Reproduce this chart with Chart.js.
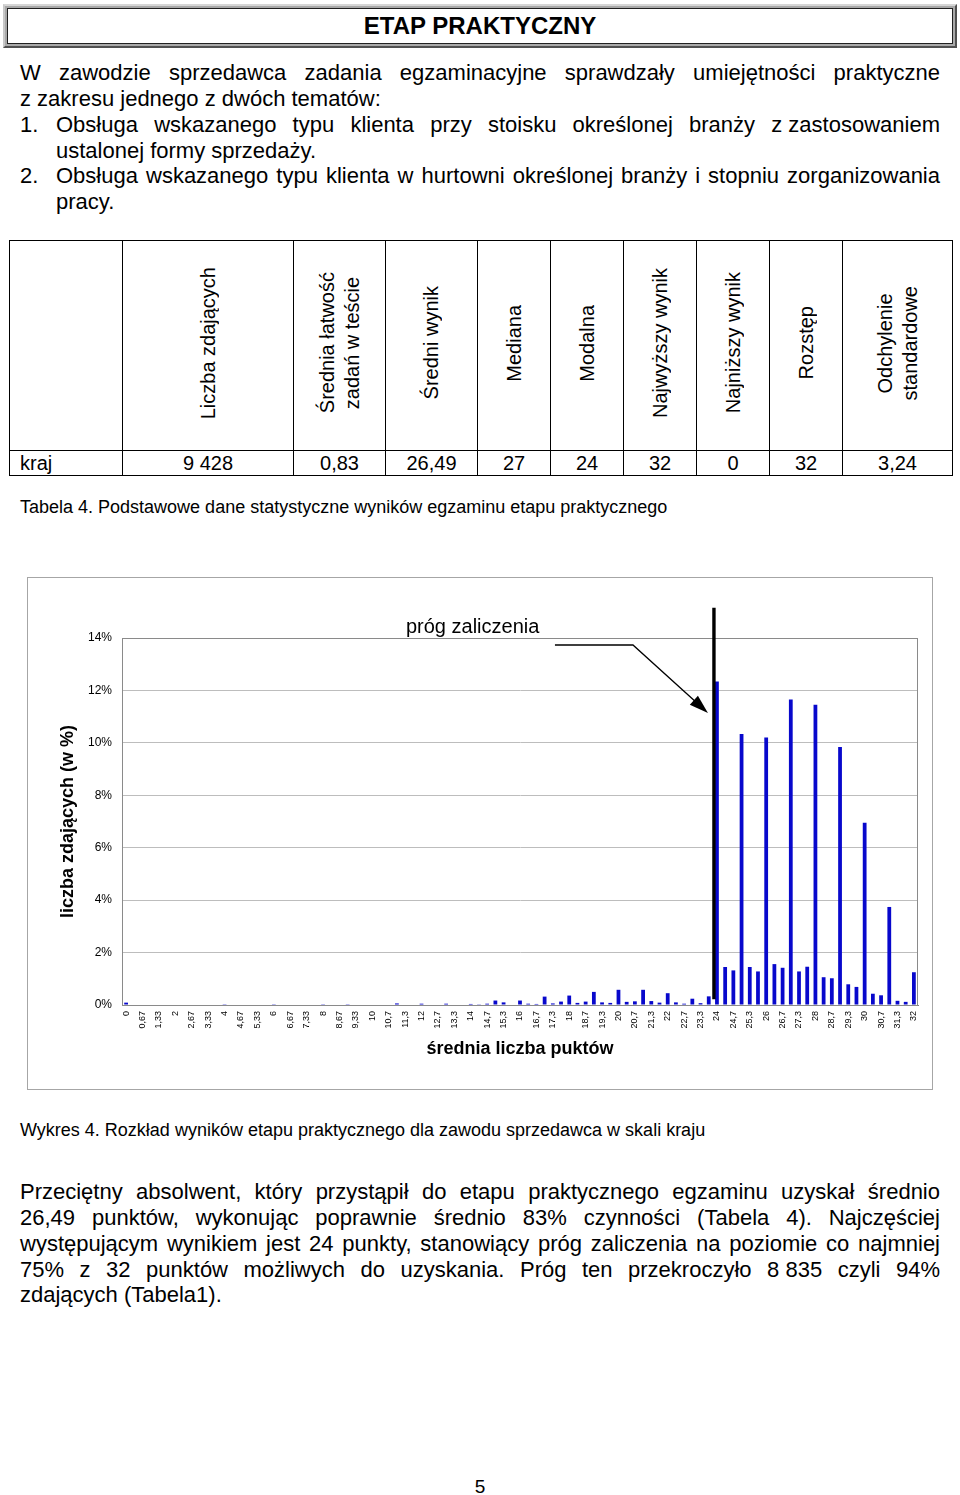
<!DOCTYPE html>
<html><head><meta charset="utf-8">
<script src="https://cdn.jsdelivr.net/npm/chart.js@4"></script>
<style>
body{margin:0;background:#fff;font-family:"Liberation Sans",Arial,sans-serif;color:#000;}
#page{position:relative;width:960px;height:1495px;overflow:hidden;background:#fff;}
.abs{position:absolute;}
#titlebox{left:3px;top:4px;width:954px;height:44px;box-sizing:border-box;background:#a9a9a9;border-top:2px solid #d6d6d6;border-left:2px solid #c8c8c8;border-bottom:2px solid #505050;border-right:2px solid #505050;padding:2px;}
#titlein{width:100%;height:100%;box-sizing:border-box;background:#fff;border:1px solid #202020;font-weight:bold;font-size:24px;text-align:center;line-height:34px;}
.ln{position:absolute;font-size:22px;line-height:26px;height:26px;text-align:justify;text-align-last:justify;}
.ll{position:absolute;font-size:22px;line-height:26px;height:26px;text-align:left;white-space:nowrap;}
.nb{display:inline-block;white-space:nowrap;}
.cap{position:absolute;left:20px;font-size:18px;line-height:22px;white-space:nowrap;}
#tbl{position:absolute;left:9px;top:240px;border-collapse:collapse;table-layout:fixed;width:943px;font-size:20px;}
#tbl td{border:1px solid #000;padding:0;text-align:center;vertical-align:middle;}
#tbl tr.h td{height:209px;}
#tbl tr.d td{height:24px;line-height:24px;}
.v{display:inline-block;writing-mode:vertical-rl;transform:rotate(180deg);text-align:center;line-height:25px;white-space:nowrap;}
#chartbox{position:absolute;left:27px;top:577px;width:906px;height:513px;box-sizing:border-box;border:1px solid #a6a6a6;}
</style></head>
<body><div id="page">
<div id="titlebox" class="abs"><div id="titlein">ETAP PRAKTYCZNY</div></div>

<div class="ln" style="left:20px;width:920px;top:60px;">W zawodzie sprzedawca zadania egzaminacyjne sprawdzały umiejętności praktyczne</div>
<div class="ll" style="left:20px;top:86px;">z zakresu jednego z dwóch tematów:</div>
<div class="ll" style="left:20px;top:112px;">1.</div>
<div class="ln" style="left:56px;width:884px;top:112px;">Obsługa wskazanego typu klienta przy stoisku określonej branży <span class="nb">z zastosowaniem</span></div>
<div class="ll" style="left:56px;top:138px;">ustalonej formy sprzedaży.</div>
<div class="ll" style="left:20px;top:163px;">2.</div>
<div class="ln" style="left:56px;width:884px;top:163px;">Obsługa wskazanego typu klienta w hurtowni określonej branży i stopniu zorganizowania</div>
<div class="ll" style="left:56px;top:189px;">pracy.</div>

<table id="tbl">
<colgroup><col style="width:113px"><col style="width:171px"><col style="width:92px"><col style="width:92px"><col style="width:73px"><col style="width:73px"><col style="width:73px"><col style="width:73px"><col style="width:73px"><col style="width:110px"></colgroup>
<tr class="h"><td></td>
<td><span class="v">Liczba zdających</span></td>
<td><span class="v">Średnia łatwość<br>zadań w teście</span></td>
<td><span class="v">Średni wynik</span></td>
<td><span class="v">Mediana</span></td>
<td><span class="v">Modalna</span></td>
<td><span class="v">Najwyższy wynik</span></td>
<td><span class="v">Najniższy wynik</span></td>
<td><span class="v">Rozstęp</span></td>
<td><span class="v">Odchylenie<br>standardowe</span></td></tr>
<tr class="d"><td style="text-align:left;padding-left:10px;">kraj</td><td>9 428</td><td>0,83</td><td>26,49</td><td>27</td><td>24</td><td>32</td><td>0</td><td>32</td><td>3,24</td></tr>
</table>
<div class="cap" style="top:496px;">Tabela 4. Podstawowe dane statystyczne wyników egzaminu etapu praktycznego</div>

<div id="chartbox"><canvas id="c" width="904" height="511"></canvas></div>

<div class="cap" style="top:1119px;">Wykres 4. Rozkład wyników etapu praktycznego dla zawodu sprzedawca w skali kraju</div>

<div class="ln" style="left:20px;width:920px;top:1179px;">Przeciętny absolwent, który przystąpił do etapu praktycznego egzaminu uzyskał średnio</div>
<div class="ln" style="left:20px;width:920px;top:1205px;">26,49 punktów, wykonując poprawnie średnio 83% czynności (Tabela 4). Najczęściej</div>
<div class="ln" style="left:20px;width:920px;top:1231px;">występującym wynikiem jest 24 punkty, stanowiący próg zaliczenia na poziomie co najmniej</div>
<div class="ln" style="left:20px;width:920px;top:1257px;">75% z 32 punktów możliwych do uzyskania. Próg ten przekroczyło <span class="nb">8 835</span> czyli 94%</div>
<div class="ll" style="left:20px;top:1282px;">zdających (Tabela1).</div>

<div class="abs" style="left:460px;width:40px;top:1476px;text-align:center;font-size:19px;line-height:22px;">5</div>
</div>
<script>
// ---- data ----
const categories = ["0","0,33","0,67","1","1,33","1,67","2","2,33","2,67","3","3,33","3,67","4","4,33","4,67","5","5,33","5,67","6","6,33","6,67","7","7,33","7,67","8","8,33","8,67","9","9,33","9,67","10","10,3","10,7","11","11,3","11,7","12","12,3","12,7","13","13,3","13,7","14","14,3","14,7","15","15,3","15,7","16","16,3","16,7","17","17,3","17,7","18","18,3","18,7","19","19,3","19,7","20","20,3","20,7","21","21,3","21,7","22","22,3","22,7","23","23,3","23,7","24","24,3","24,7","25","25,3","25,7","26","26,3","26,7","27","27,3","27,7","28","28,3","28,7","29","29,3","29,7","30","30,3","30,7","31","31,3","31,7","32"];
const percentOfCandidates = [
 0.09,0,0, 0.02,0,0, 0.02,0,0, 0.02,0,0, 0.03,0,0, 0,0,0, 0.03,0,0, 0.02,0,0, 0.03,0,0, 0.03,0,0,
 0.02,0,0, 0.06,0,0, 0.05,0,0, 0.05,0,0, 0.04,0.01,0.05, 0.17,0.10,0.02, 0.17,0.05,0.04, 0.32,0.06,0.13,
 0.36,0.08,0.13, 0.50,0.10,0.08, 0.58,0.12,0.14, 0.58,0.15,0.09, 0.45,0.10,0.05, 0.24,0.07,0.33,
 12.34,1.45,1.32, 10.34,1.45,1.28, 10.20,1.56,1.42, 11.65,1.28,1.46, 11.45,1.06,1.02, 9.84,0.79,0.69,
 6.95,0.43,0.37, 3.74,0.16,0.12, 1.25];
const yTickMin = 0, yTickMax = 14, yTickStep = 2;
const passThreshold = "24";
const thresholdLineTop = 15.15, thresholdLineBottom = 0.22;
const annotationText = "próg zaliczenia";

Chart.defaults.font.family = "'Liberation Sans', Arial, sans-serif";
Chart.defaults.color = '#000';

const thrIndex = categories.indexOf(passThreshold);

const overlay = {
  id: 'overlay',
  beforeDatasetsDraw(chart) {
    const {ctx, chartArea: a} = chart;
    ctx.save();
    ctx.strokeStyle = '#8a8a8a';
    ctx.lineWidth = 1;
    ctx.strokeRect(Math.round(a.left) + 0.5, Math.round(a.top) + 0.5, Math.round(a.right - a.left) - 1, Math.round(a.bottom - a.top));
    ctx.restore();
  },
  afterDatasetsDraw(chart) {
    const {ctx, chartArea: a} = chart;
    const xs = chart.scales.x, ys = chart.scales.y;
    const lx = xs.getPixelForValue(thrIndex) - 3;
    ctx.save();
    ctx.strokeStyle = '#000';
    ctx.lineWidth = 3.4;
    ctx.beginPath();
    ctx.moveTo(lx, ys.getPixelForValue(thresholdLineTop));
    ctx.lineTo(lx, ys.getPixelForValue(thresholdLineBottom));
    ctx.stroke();
    // arrow
    const start = {x: lx - 159, y: a.top + 7};
    const bend = {x: lx - 81, y: a.top + 7};
    const tip = {x: lx - 6, y: a.top + 75};
    const dx = tip.x - bend.x, dy = tip.y - bend.y, len = Math.hypot(dx, dy);
    const ux = dx / len, uy = dy / len;
    const head = 19, hw = 6;
    const bx = tip.x - ux * head, by = tip.y - uy * head;
    ctx.lineWidth = 1.3;
    ctx.beginPath();
    ctx.moveTo(start.x, start.y);
    ctx.lineTo(bend.x, bend.y);
    ctx.lineTo(bx + ux * 2, by + uy * 2);
    ctx.stroke();
    ctx.fillStyle = '#000';
    ctx.beginPath();
    ctx.moveTo(tip.x, tip.y);
    ctx.lineTo(bx - uy * hw, by + ux * hw);
    ctx.lineTo(bx + uy * hw, by - ux * hw);
    ctx.closePath();
    ctx.fill();
    ctx.font = "20px 'Liberation Sans', Arial, sans-serif";
    ctx.textBaseline = 'middle';
    ctx.textAlign = 'left';
    ctx.fillText(annotationText, lx - 308, a.top - 11);
    ctx.restore();
  }
};

new Chart(document.getElementById('c'), {
  type: 'bar',
  data: {
    labels: categories,
    datasets: [{
      data: percentOfCandidates,
      backgroundColor: '#0808cc',
      borderWidth: 0,
      barPercentage: 0.46,
      categoryPercentage: 1.0
    }]
  },
  options: {
    responsive: false,
    animation: false,
    devicePixelRatio: 1,
    layout: {padding: {top: 60, right: 14, bottom: 0, left: 0}},
    plugins: {legend: {display: false}, tooltip: {enabled: false}},
    scales: {
      x: {
        grid: {display: false, drawTicks: false},
        border: {display: true, color: '#808080', width: 1},
        ticks: {
          autoSkip: false, minRotation: 90, maxRotation: 90, padding: 6,
          font: {size: 9},
          callback: (v, i) => (i % 2 === 0 ? categories[i] : '')
        },
        title: {display: true, text: 'średnia liczba puktów', font: {size: 18, weight: 'bold'}, padding: {top: 0, bottom: 29}},
        afterFit: s => { s.height = 84; }
      },
      y: {
        min: yTickMin, max: yTickMax,
        grid: {color: '#bdbdbd', drawTicks: false, lineWidth: 1},
        border: {display: true, color: '#7a7a7a', width: 1},
        ticks: {stepSize: yTickStep, padding: 10, font: {size: 12}, callback: v => v + '%'},
        title: {display: true, text: 'liczba zdających (w %)', font: {size: 18, weight: 'bold'}, padding: {top: 29, bottom: 0}},
        afterFit: s => { s.width = 94; }
      }
    }
  },
  plugins: [overlay]
});
</script>
</body></html>
